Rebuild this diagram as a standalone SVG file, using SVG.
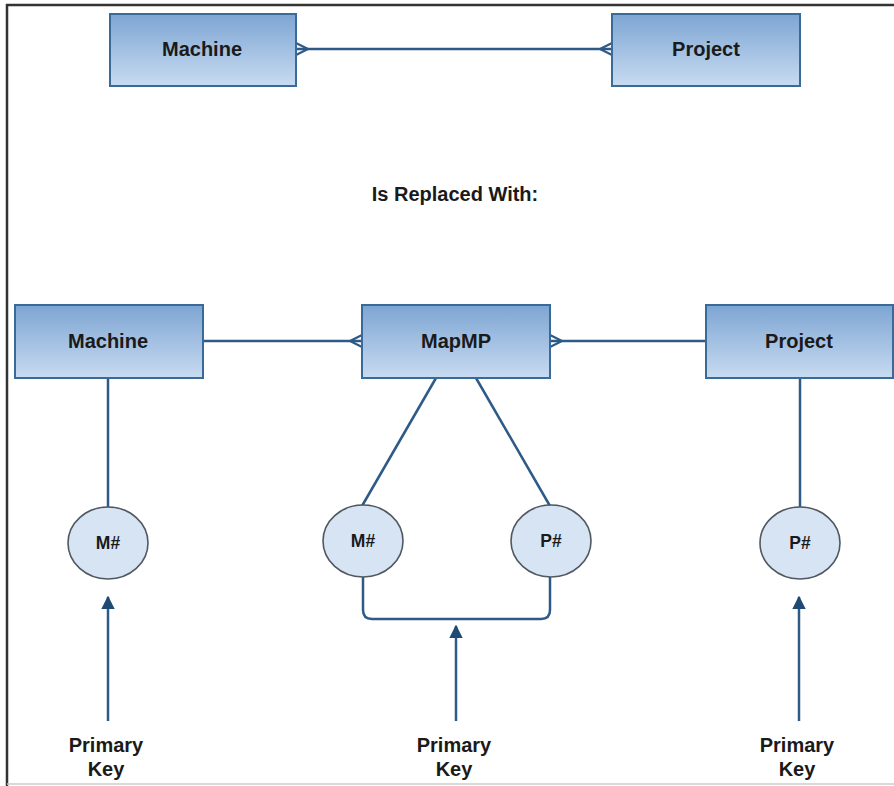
<svg xmlns="http://www.w3.org/2000/svg" width="894" height="786" viewBox="0 0 894 786">
  <style>
    .entity rect { fill: url(#entityFill); stroke: #3a6a98; stroke-width: 2; }
    .attr ellipse { fill: #d6e4f4; stroke: #505860; stroke-width: 1.6; }
    .label { font-family: "Liberation Sans", Arial, sans-serif; font-weight: bold; fill: #1a1a1a; text-anchor: middle; }
    .ent { font-size: 20px; }
    .att { font-size: 17.5px; }
    .note { font-size: 20px; }
    .conn { fill: none; stroke: #2d5a87; stroke-width: 2.5; }
    .crow { fill: none; stroke: #2d5a87; stroke-width: 2.2; }
    .arrow { fill: none; stroke: #2d5a87; stroke-width: 2.5; marker-end: url(#arrowHead); }
  </style>
  <defs>
    <linearGradient id="entityFill" x1="0" y1="0" x2="0" y2="1">
      <stop offset="0" stop-color="#7da5d3"/>
      <stop offset="1" stop-color="#c8dbf1"/>
    </linearGradient>
    <marker id="arrowHead" viewBox="0 0 10 10" refX="9" refY="5" markerWidth="5.5" markerHeight="5.5" orient="auto" markerUnits="strokeWidth">
      <path d="M0,0 L10,5 L0,10 z" fill="#1f4a75"/>
    </marker>
  </defs>

  <rect width="894" height="786" fill="#ffffff"/>
  <!-- frame -->
  <line x1="6" y1="5" x2="894" y2="5" stroke="#333" stroke-width="2.5"/>
  <line x1="7" y1="4" x2="7" y2="786" stroke="#333" stroke-width="2.5"/>
  <line x1="7" y1="784" x2="894" y2="784" stroke="#ccc" stroke-width="1.5"/>

  <g id="connectors">
    <!-- top relationship -->
    <line class="conn" x1="296" y1="49" x2="612" y2="49"/>
    <path class="crow" d="M296,43 L308,49 L296,55 M296,49 L308,49"/>
    <path class="crow" d="M612,43 L600,49 L612,55 M612,49 L600,49"/>
    <!-- middle relationship -->
    <line class="conn" x1="203" y1="341" x2="362" y2="341"/>
    <line class="conn" x1="550" y1="341" x2="706" y2="341"/>
    <path class="crow" d="M362,335 L350,341 L362,347"/>
    <path class="crow" d="M550,335 L562,341 L550,347"/>
    <!-- attribute links -->
    <line class="conn" x1="108" y1="378" x2="108" y2="507"/>
    <line class="conn" x1="800" y1="378" x2="800" y2="507"/>
    <line class="conn" x1="436" y1="378" x2="362" y2="506"/>
    <line class="conn" x1="476" y1="378" x2="550" y2="506"/>
    <path class="conn" d="M363,577 L363,610 Q363,619 372,619 L541,619 Q550,619 550,610 L550,577"/>
    <!-- primary key arrows -->
    <line class="arrow" x1="108" y1="721" x2="108" y2="597"/>
    <line class="arrow" x1="456" y1="721" x2="456" y2="626"/>
    <line class="arrow" x1="799" y1="721" x2="799" y2="597"/>
  </g>

  <g id="machine-top" class="entity">
    <rect x="110" y="14" width="186" height="72"/>
    <text class="label ent" x="202" y="56">Machine</text>
  </g>
  <g id="project-top" class="entity">
    <rect x="612" y="14" width="188" height="72"/>
    <text class="label ent" x="706" y="56">Project</text>
  </g>

  <text id="replaced" class="label note" x="455" y="201">Is Replaced With:</text>

  <g id="machine" class="entity">
    <rect x="15" y="305" width="188" height="73"/>
    <text class="label ent" x="108" y="348">Machine</text>
  </g>
  <g id="mapmp" class="entity">
    <rect x="362" y="305" width="188" height="73"/>
    <text class="label ent" x="456" y="348">MapMP</text>
  </g>
  <g id="project" class="entity">
    <rect x="706" y="305" width="187" height="73"/>
    <text class="label ent" x="799" y="348">Project</text>
  </g>

  <g id="attr-m-left" class="attr">
    <ellipse cx="108" cy="543" rx="40" ry="36"/>
    <text class="label att" x="108" y="549">M#</text>
  </g>
  <g id="attr-m-mid" class="attr">
    <ellipse cx="363" cy="541" rx="40" ry="36"/>
    <text class="label att" x="363" y="547">M#</text>
  </g>
  <g id="attr-p-mid" class="attr">
    <ellipse cx="551" cy="541" rx="40" ry="36"/>
    <text class="label att" x="551" y="547">P#</text>
  </g>
  <g id="attr-p-right" class="attr">
    <ellipse cx="800" cy="543" rx="40" ry="36"/>
    <text class="label att" x="800" y="549">P#</text>
  </g>

  <g id="pk-left">
    <text class="label note" x="106" y="752">Primary</text>
    <text class="label note" x="106" y="776">Key</text>
  </g>
  <g id="pk-mid">
    <text class="label note" x="454" y="752">Primary</text>
    <text class="label note" x="454" y="776">Key</text>
  </g>
  <g id="pk-right">
    <text class="label note" x="797" y="752">Primary</text>
    <text class="label note" x="797" y="776">Key</text>
  </g>
</svg>
